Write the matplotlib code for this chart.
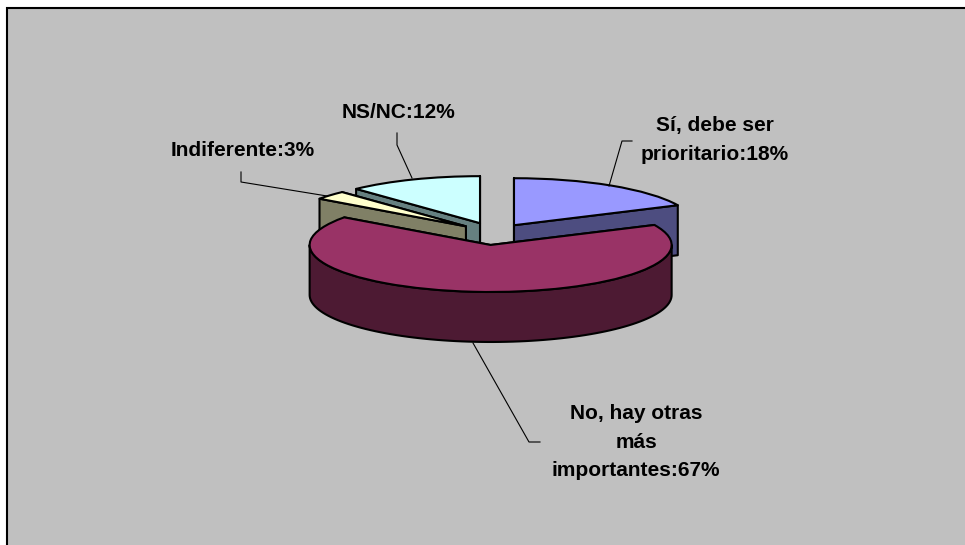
import numpy as np
import matplotlib
matplotlib.use('Agg')
import matplotlib.pyplot as plt
from matplotlib.patches import Polygon, Rectangle

labels = ['Sí, debe ser\nprioritario:18%', 'No, hay otras\nmás\nimportantes:67%', 'Indiferente:3%', 'NS/NC:12%']
shares = [18, 67, 3, 12]

top_colors = ['#9999FF', '#993366', '#FFFFCC', '#CCFFFF']
side_colors = ['#4D4D80', '#4D1A33', '#808066', '#668080']
explode = [0.196, 0.256, 0.214, 0.225]
# back to front
draw_order = [3, 2, 0, 1]

# pixel placement of the squashed pie
W, H = 965, 545
cx, cy, rx, ry = 495, 233, 181, 47
depth = 50 / ry
lw = 1.5

plt.rcParams['font.family'] = ['Liberation Sans', 'DejaVu Sans']
fig = plt.figure(figsize=(W / 100, H / 100), dpi=100, facecolor='white')
fig.patches.append(Rectangle((7 / W, -0.1), 1.1, 1.1 - 8 / H, transform=fig.transFigure,
                             facecolor='#C0C0C0', edgecolor='black', linewidth=1.5, zorder=-1))
ax = fig.add_axes([0, 0, 1, 1])
ax.patch.set_visible(False)
wedges, _ = ax.pie(shares, startangle=90, counterclock=False, explode=explode, radius=1,
                   colors=top_colors, wedgeprops={'edgecolor': 'black', 'linewidth': lw})
ax.set_aspect('auto')
ax.set_xlim((0 - cx) / rx, (W - cx) / rx)
ax.set_ylim((cy - H) / ry, cy / ry)
ax.axis('off')

z = 2
for i in draw_order:
    w = wedges[i]
    c = np.array(w.center)
    ends = sorted([w.theta1, w.theta2], key=lambda t: -np.sin(np.radians(t)))
    for t in ends:
        p = c + [np.cos(np.radians(t)), np.sin(np.radians(t))]
        ax.add_patch(Polygon([c, p, p - [0, depth], c - [0, depth]], closed=True,
                             facecolor=side_colors[i], edgecolor='black', linewidth=lw,
                             joinstyle='round', zorder=z))
        z += 1
    a1, a2 = max(w.theta1, -180), min(w.theta2, 0)
    if a1 < a2:
        ts = np.radians(np.linspace(a1, a2, 90))
        arc = np.column_stack([c[0] + np.cos(ts), c[1] + np.sin(ts)])
        ax.add_patch(Polygon(np.vstack([arc, arc[::-1] - [0, depth]]), closed=True,
                             facecolor=side_colors[i], edgecolor='black', linewidth=lw,
                             joinstyle='round', zorder=z))
        z += 1
    w.set_zorder(z)
    w.set_joinstyle('round')
    z += 1


def px(x, y):
    return (x - cx) / rx, (cy - y) / ry


# label centre and leader line elbows, in pixels
label_pos = [(715, 140), (636, 442), (243, 150), (398, 112)]
leaders = [[(609, 186), (622, 141), (632, 141)],
           [(473, 343), (529, 442), (540, 442)],
           [(327, 196), (241, 182), (241, 172)],
           [(412, 178), (397, 145), (397, 133)]]
for i in range(len(labels)):
    pts = [px(*p) for p in leaders[i]]
    ax.plot(*zip(*pts), color='black', linewidth=0.8, zorder=z)
    ax.text(*px(*label_pos[i]), labels[i], ha='center', va='center', fontsize=15,
            fontweight='bold', color='black', linespacing=1.66, zorder=z + 1)

fig.savefig('out.png', dpi=100, facecolor='white')
